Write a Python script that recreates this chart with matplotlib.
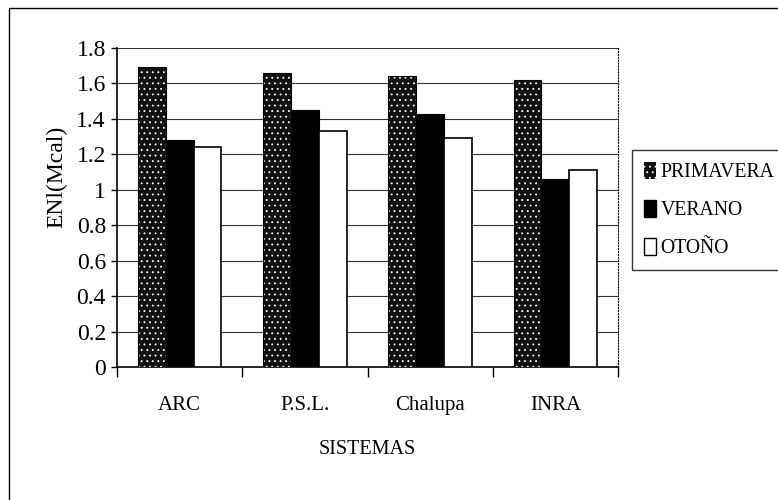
import numpy as np
import matplotlib
matplotlib.use('Agg')
import matplotlib.pyplot as plt
from matplotlib.patches import Rectangle, Patch
from matplotlib.ticker import FixedLocator, FuncFormatter

plt.rcParams['font.family'] = ['Liberation Serif', 'DejaVu Serif']
plt.rcParams['hatch.linewidth'] = 0.6

# ENl values per system and season
sistemas = ['ARC', 'P.S.L.', 'Chalupa', 'INRA']
primavera = [1.69, 1.66, 1.64, 1.62]
verano = [1.28, 1.45, 1.43, 1.06]
otono = [1.24, 1.33, 1.29, 1.11]
estaciones = ['PRIMAVERA', 'VERANO', 'OTOÑO']

fig = plt.figure(figsize=(7.78, 5.0), dpi=100)
ax = fig.add_axes([117 / 778, 1 - 367 / 500, (618 - 117) / 778, (367 - 48) / 500])

x = np.arange(len(sistemas))
w = 1 / 4.5   # gap width 150%

# primavera: dark stippled fill
ax.bar(x - w, primavera, w, color='#111111', edgecolor='white', hatch='...',
       linewidth=0, zorder=3)
ax.bar(x - w, primavera, w, fill=False, edgecolor='black', linewidth=0.8, zorder=4)
ax.bar(x, verano, w, color='black', edgecolor='black', linewidth=0.8, zorder=3)
ax.bar(x + w, otono, w, color='white', edgecolor='black', linewidth=1.2, zorder=3)

ax.set_xlim(-0.5, len(sistemas) - 0.5)
ax.set_ylim(0, 1.8)
ax.set_yticks(np.arange(0, 1.81, 0.2))
ax.yaxis.set_major_formatter(FuncFormatter(lambda v, p: f'{v:g}'))
ax.grid(axis='y', color='#333333', linewidth=0.8, zorder=0)

# category boundaries carry the tick marks, labels sit at the centres
ax.xaxis.set_major_locator(FixedLocator(np.arange(-0.5, len(sistemas), 1)))
ax.xaxis.set_major_formatter(FuncFormatter(lambda v, p: ''))
ax.xaxis.set_minor_locator(FixedLocator(x))
ax.set_xticklabels(sistemas, minor=True)
ax.tick_params(axis='x', which='major', length=7, width=1, direction='out')
ax.tick_params(axis='x', which='minor', length=0, pad=21, labelsize=15)
ax.tick_params(axis='y', length=4, width=1, direction='out', labelsize=17, pad=4)

for s in ['left', 'bottom']:
    ax.spines[s].set_linewidth(1.2)
ax.spines['top'].set_visible(False)
ax.spines['right'].set_linestyle(':')
ax.spines['right'].set_linewidth(0.8)

fig.text(367.5 / 778, 1 - 450 / 500, 'SISTEMAS', ha='center', va='center', fontsize=14.5)
fig.text(57 / 778, 1 - 177 / 500, 'ENl(Mcal)', ha='center', va='center',
         rotation=90, fontsize=17)

handles = [
    Patch(facecolor='#111111', edgecolor='white', hatch='...', linewidth=0),
    Patch(facecolor='black', edgecolor='black'),
    Patch(facecolor='white', edgecolor='black'),
]
leg = fig.legend(handles, estaciones, loc='upper left',
                 bbox_to_anchor=(632 / 778, 1 - 150 / 500),
                 frameon=True, fancybox=False, edgecolor='black', fontsize=14.2,
                 handlelength=0.6, handleheight=0.95, handletextpad=0.25,
                 labelspacing=0.9, borderpad=0.6, borderaxespad=0)
leg.get_frame().set_linewidth(1.0)

# outer chart frame
fig.patches.append(Rectangle((9 / 778, -0.05), 1.0, 1 - 8 / 500 + 0.05,
                             transform=fig.transFigure, fill=False,
                             edgecolor='black', linewidth=1.0))

fig.savefig('out.png', dpi=100)
